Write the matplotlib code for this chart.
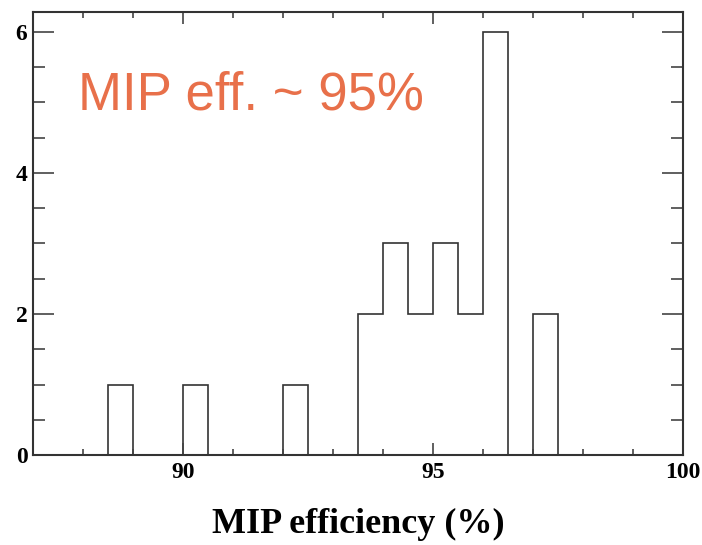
import numpy as np
import matplotlib
matplotlib.use("Agg")
import matplotlib.pyplot as plt
from matplotlib.ticker import MultipleLocator

# bin edges 87 -> 100, width 0.5
bin_start = 87.0
bin_width = 0.5
counts = [0, 0, 0, 1, 0, 0, 1, 0, 0, 0, 1, 0, 0,
          2, 3, 2, 3, 2, 6, 0, 2, 0, 0, 0, 0, 0]
edges = bin_start + bin_width * np.arange(len(counts) + 1)

xlabel = "MIP efficiency (%)"
note = "MIP eff. ~ 95%"

fig = plt.figure(figsize=(7.02, 5.45), dpi=100)
ax = fig.add_axes([0.047, 0.165, 0.926, 0.813])

ax.stairs(counts, edges, color="#333333", linewidth=1.2)

ax.set_xlim(87, 100)
ax.set_ylim(0, 6.28)

ax.xaxis.set_major_locator(MultipleLocator(5))
ax.xaxis.set_minor_locator(MultipleLocator(1))
ax.yaxis.set_major_locator(MultipleLocator(2))
ax.yaxis.set_minor_locator(MultipleLocator(0.5))

ax.tick_params(which="both", direction="in", top=True, right=True,
               color="#444444", width=1.2)
ax.tick_params(axis="x", which="major", length=8.5, pad=5)
ax.tick_params(axis="x", which="minor", length=4.3)
ax.tick_params(axis="y", which="major", length=15, pad=4)
ax.tick_params(axis="y", which="minor", length=8.5)

for lab in ax.get_xticklabels() + ax.get_yticklabels():
    lab.set_fontfamily("Liberation Serif")
    lab.set_fontweight("bold")
    lab.set_fontsize(17)

for sp in ax.spines.values():
    sp.set_color("#333333")
    sp.set_linewidth(1.5)

ax.set_xlabel(xlabel, fontfamily="Liberation Serif", fontweight="bold",
              fontsize=26, labelpad=18)

ax.text(0.069, 0.781, note, transform=ax.transAxes, color="#E8704A",
        fontfamily="Liberation Sans", fontsize=38, ha="left", va="baseline")

fig.savefig("out.png", dpi=100)
